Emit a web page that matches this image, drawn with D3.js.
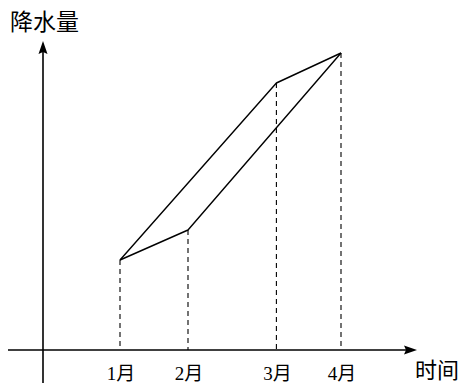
<!DOCTYPE html>
<html><head><meta charset="utf-8">
<script src="https://cdn.jsdelivr.net/npm/d3@7"></script>
<style>html,body{margin:0;padding:0;background:#fff;}svg{display:block;}</style>
</head><body>
<svg id="c" width="462" height="383"></svg>
<script>
const categories = ["1月", "2月", "3月", "4月"];
const timePos = [1, 2, 3.3, 4.25];
const rainfall = [30, 40, 89, 99];
const upperPath = [0, 2, 3];
const lowerPath = [0, 1, 3];
const yTitle = "降水量";
const xTitle = "时间";

const svg = d3.select("#c");
const x = d3.scaleLinear().domain([1, 4.25]).range([120, 341]);
const y = d3.scaleLinear().domain([0, 100]).range([350, 50]);
const ox = 43, oy = y(0);
const font = "'Liberation Serif','Times New Roman','Noto Sans CJK SC',serif";

// axes
svg.append("line").attr("x1", 8).attr("x2", 406).attr("y1", oy).attr("y2", oy)
  .attr("stroke", "#000").attr("stroke-width", 1.6);
svg.append("path").attr("d", `M417,${oy} L404,${oy-4.5} L406,${oy} L404,${oy+4.5} Z`).attr("fill", "#000");
svg.append("line").attr("x1", ox).attr("x2", ox).attr("y1", 383).attr("y2", 52)
  .attr("stroke", "#000").attr("stroke-width", 1.6);
svg.append("path").attr("d", `M${ox},41 L${ox-4.5},54 L${ox},52 L${ox+4.5},54 Z`).attr("fill", "#000");

// dashed drop lines
svg.selectAll("line.drop").data(categories).enter().append("line")
  .attr("x1", (d, i) => x(timePos[i])).attr("x2", (d, i) => x(timePos[i]))
  .attr("y1", (d, i) => y(rainfall[i])).attr("y2", oy)
  .attr("stroke", "#000").attr("stroke-width", 1.1).attr("stroke-dasharray", "5,4");

const line = d3.line().x(i => x(timePos[i])).y(i => y(rainfall[i]));
[upperPath, lowerPath].forEach(p => {
  svg.append("path").attr("d", line(p)).attr("fill", "none")
    .attr("stroke", "#000").attr("stroke-width", 1.4).attr("stroke-linejoin", "round");
});

// tick labels
svg.selectAll("text.tick").data(categories).enter().append("text")
  .attr("x", (d, i) => x(timePos[i]) + 1).attr("y", 380)
  .attr("text-anchor", "middle").attr("font-family", font).attr("font-size", 19)
  .text(d => d);

svg.append("text").attr("x", 415).attr("y", 378).attr("font-family", font)
  .attr("font-size", 22).text(xTitle);
svg.append("text").attr("x", 10).attr("y", 30).attr("font-family", font)
  .attr("font-size", 23).text(yTitle);
</script>
</body></html>
